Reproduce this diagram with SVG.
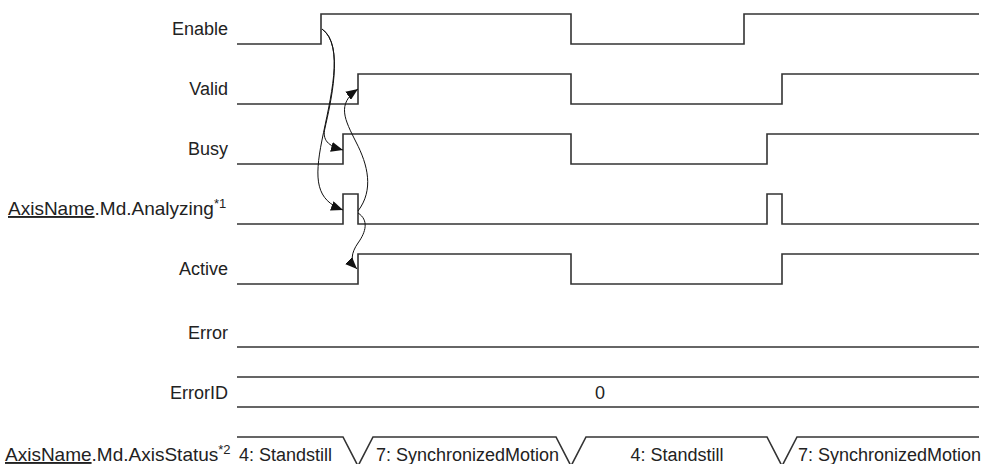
<svg xmlns="http://www.w3.org/2000/svg" width="986" height="464" viewBox="0 0 986 464">
<defs>
<style>
text{font-family:"Liberation Sans",Arial,sans-serif;font-size:18px;fill:#222}
.lbl{text-anchor:end}
.axl{font-size:19px}
.sig{fill:none;stroke:#333;stroke-width:1.6}
.cur{fill:none;stroke:#111;stroke-width:1}
.sup{font-size:13px}
</style>
<marker id="ah" markerUnits="userSpaceOnUse" markerWidth="12" markerHeight="10" refX="12" refY="5" orient="auto">
<path d="M0,0 L12,5 L0,10 z" fill="#111"/>
</marker>
</defs>
<rect width="986" height="464" fill="#fff"/>
<g id="enable">
<text class="lbl" x="228" y="35">Enable</text>
<path class="sig" d="M237,44 H321 V14 H571 V44 H744 V14 H979"/>
</g>
<g id="valid">
<text class="lbl" x="228" y="95">Valid</text>
<path class="sig" d="M237,104 H358 V74 H571 V104 H782 V74 H979"/>
</g>
<g id="busy">
<text class="lbl" x="228" y="155">Busy</text>
<path class="sig" d="M237,164 H343 V134 H571 V164 H767 V134 H979"/>
</g>
<g id="analyzing">
<text class="axl" x="8" y="215"><tspan text-decoration="underline">AxisName</tspan>.Md.Analyzing<tspan class="sup" dy="-7">*1</tspan></text>
<path class="sig" d="M237,224 H343 V194 H358 V224 H767 V194 H782 V224 H979"/>
</g>
<g id="active">
<text class="lbl" x="228" y="275">Active</text>
<path class="sig" d="M237,284 H358 V254 H571 V284 H782 V254 H979"/>
</g>
<g id="error">
<text class="lbl" x="228" y="339">Error</text>
<path class="sig" d="M237,347 H979"/>
</g>
<g id="errorid">
<text class="lbl" x="228" y="399">ErrorID</text>
<path class="sig" d="M237,377 H979 M237,407 H979"/>
<text x="600" y="399" text-anchor="middle">0</text>
</g>
<g id="axisstatus">
<text class="axl" x="5" y="461"><tspan text-decoration="underline">AxisName</tspan>.Md.AxisStatus<tspan class="sup" dy="-7">*2</tspan></text>
<path class="sig" d="M237,437 H343 L373,495 M343,495 L373,437 H556 L586,495 M556,495 L586,437 H767 L797,495 M767,495 L797,437 H979"/>
<text x="239" y="461">4: Standstill</text>
<text x="376" y="461">7: SynchronizedMotion</text>
<text x="677" y="461" text-anchor="middle">4: Standstill</text>
<text x="798" y="461">7: SynchronizedMotion</text>
</g>
<g id="connectors">
<path class="cur" marker-end="url(#ah)" d="M322,29 C345,45 330,105 325,128 C322,140 328,146 343,150"/>
<path class="cur" marker-end="url(#ah)" d="M322,29 C345,45 330,100 322,140 C314,180 316,200 343,210"/>
<path class="cur" marker-end="url(#ah)" d="M358,211 C374,190 368,165 356,142 C345,120 336,104 358,89"/>
<path class="cur" marker-end="url(#ah)" d="M358,213 C369,220 366,232 358,243 C351,253 350,262 357,269"/>
</g>
</svg>
